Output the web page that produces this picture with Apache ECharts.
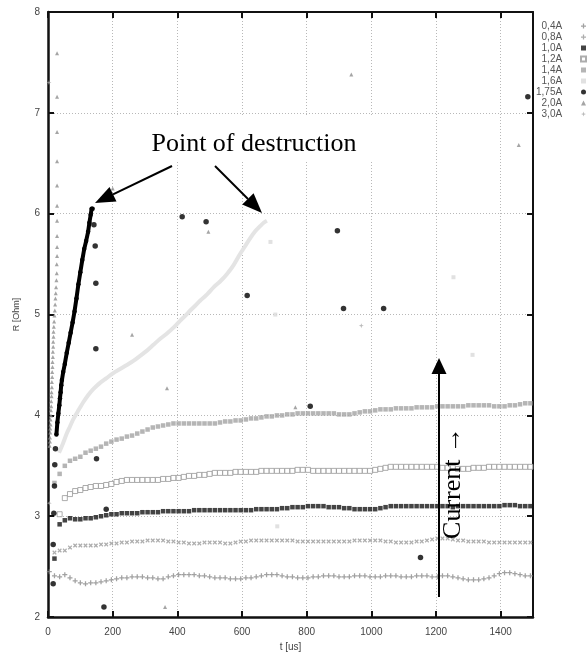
<!DOCTYPE html>
<html><head><meta charset="utf-8">
<script src="https://cdn.jsdelivr.net/npm/echarts@6/dist/echarts.min.js"></script>
<style>html,body{margin:0;padding:0;background:#fff}#c{width:587px;height:657px}</style>
</head><body><div id="c"></div>
<script>
// sample times (us) of the regularly sampled series
const T = [4,20,36,52,68,84,100,116,132,148,
  164,180,196,212,228,244,260,276,292,308,
  324,340,356,372,388,404,420,436,452,468,
  484,500,516,532,548,564,580,596,612,628,
  644,660,676,692,708,724,740,756,772,788,
  804,820,836,852,868,884,900,916,932,948,
  964,980,996,1012,1028,1044,1060,1076,1092,1108,
  1124,1140,1156,1172,1188,1204,1220,1236,1252,1268,
  1284,1300,1316,1332,1348,1364,1380,1396,1412,1428,
  1444,1460,1476,1492];

const R04 = [2.45,2.41,2.40,2.42,2.39,2.36,2.34,2.33,2.34,2.34,
  2.35,2.36,2.37,2.38,2.39,2.39,2.40,2.40,2.40,2.39,
  2.39,2.38,2.38,2.40,2.41,2.42,2.42,2.42,2.42,2.41,
  2.41,2.40,2.39,2.39,2.39,2.38,2.38,2.38,2.39,2.39,
  2.40,2.41,2.42,2.42,2.42,2.41,2.40,2.40,2.39,2.39,
  2.39,2.40,2.40,2.41,2.41,2.41,2.40,2.40,2.40,2.41,
  2.41,2.41,2.40,2.40,2.40,2.41,2.41,2.41,2.40,2.40,
  2.40,2.41,2.41,2.41,2.40,2.40,2.41,2.41,2.40,2.39,
  2.38,2.37,2.37,2.37,2.38,2.39,2.41,2.43,2.44,2.44,
  2.43,2.42,2.41,2.41];

const R08 = [null,2.64,2.66,2.66,2.69,2.71,2.71,2.71,2.71,2.71,
  2.72,2.72,2.73,2.73,2.74,2.74,2.75,2.75,2.75,2.76,
  2.76,2.76,2.76,2.75,2.75,2.74,2.74,2.73,2.73,2.73,
  2.74,2.74,2.74,2.74,2.73,2.73,2.74,2.75,2.75,2.76,
  2.76,2.76,2.76,2.76,2.76,2.76,2.76,2.76,2.75,2.75,
  2.75,2.75,2.75,2.75,2.75,2.75,2.75,2.75,2.75,2.76,
  2.76,2.76,2.76,2.76,2.76,2.75,2.75,2.74,2.74,2.74,
  2.74,2.75,2.75,2.76,2.77,2.78,2.78,2.78,2.77,2.76,
  2.76,2.75,2.75,2.75,2.75,2.74,2.74,2.74,2.74,2.74,
  2.74,2.74,2.74,2.74];

const R10 = [null,2.58,2.92,2.96,2.98,2.97,2.97,2.98,2.98,2.99,
  3.00,3.01,3.02,3.02,3.03,3.03,3.03,3.03,3.04,3.04,
  3.04,3.04,3.05,3.05,3.05,3.05,3.05,3.05,3.06,3.06,
  3.06,3.06,3.06,3.06,3.06,3.06,3.06,3.06,3.06,3.06,
  3.07,3.07,3.07,3.07,3.07,3.08,3.08,3.09,3.09,3.09,
  3.10,3.10,3.10,3.10,3.09,3.09,3.09,3.08,3.08,3.07,
  3.07,3.07,3.07,3.07,3.08,3.09,3.10,3.10,3.10,3.10,
  3.10,3.10,3.10,3.10,3.10,3.10,3.10,3.10,3.09,3.10,
  3.10,3.10,3.10,3.10,3.10,3.10,3.10,3.10,3.11,3.11,
  3.11,3.10,3.10,3.10];

const R12 = [null,null,3.02,3.18,3.22,3.25,3.26,3.28,3.29,3.30,
  3.30,3.31,3.32,3.34,3.35,3.36,3.36,3.36,3.36,3.36,
  3.36,3.36,3.37,3.37,3.38,3.38,3.39,3.40,3.40,3.41,
  3.41,3.42,3.43,3.43,3.43,3.43,3.44,3.44,3.44,3.44,
  3.44,3.45,3.45,3.45,3.45,3.45,3.45,3.45,3.46,3.46,
  3.46,3.45,3.45,3.45,3.45,3.45,3.45,3.45,3.45,3.45,
  3.45,3.45,3.45,3.46,3.47,3.48,3.49,3.49,3.49,3.49,
  3.49,3.49,3.49,3.49,3.49,3.49,3.48,3.48,3.48,3.47,
  3.47,3.47,3.48,3.48,3.48,3.49,3.49,3.49,3.49,3.49,
  3.49,3.49,3.49,3.49];

const R14 = [null,3.33,3.42,3.50,3.55,3.57,3.59,3.63,3.65,3.67,
  3.69,3.72,3.74,3.76,3.77,3.79,3.80,3.82,3.84,3.86,
  3.88,3.89,3.90,3.91,3.92,3.92,3.92,3.92,3.92,3.92,
  3.92,3.92,3.92,3.93,3.94,3.94,3.95,3.95,3.96,3.97,
  3.97,3.98,3.99,3.99,4.00,4.00,4.01,4.01,4.02,4.02,
  4.02,4.02,4.02,4.02,4.02,4.02,4.01,4.01,4.01,4.02,
  4.03,4.04,4.04,4.05,4.06,4.06,4.06,4.07,4.07,4.07,
  4.07,4.08,4.08,4.08,4.08,4.09,4.09,4.09,4.09,4.09,
  4.09,4.10,4.10,4.10,4.10,4.10,4.09,4.09,4.09,4.10,
  4.10,4.11,4.12,4.12];

// 1,6A: continuous light trace up to destruction, then stray points
const C16 = [[34,3.63],[46,3.72],[58,3.82],[68,3.89],[78,3.96],[94,4.05],[109,4.13],[124,4.20],
  [140,4.26],[160,4.32],[181,4.37],[202,4.42],[223,4.46],[244,4.50],[264,4.54],[285,4.59],
  [305,4.64],[326,4.70],[347,4.76],[367,4.81],[388,4.87],[409,4.94],[425,4.99],[440,5.04],
  [456,5.09],[471,5.14],[492,5.20],[512,5.27],[533,5.33],[553,5.40],[574,5.49],[594,5.60],
  [610,5.68],[626,5.76],[642,5.83],[657,5.88],[667,5.91],[677,5.93]];
const S16 = [[688,5.72],[703,5.00],[709,2.90],[1254,5.37],[1313,4.60]];

// 1,75A: dense rise to destruction, then stray points
const C175 = [[26,3.81],[29,3.93],[32,4.02],[35,4.10],[37,4.17],[39,4.23],[41,4.30],[43,4.35],
  [47,4.43],[52,4.51],[58,4.62],[64,4.72],[70,4.82],[76,4.92],[82,5.03],[88,5.16],[94,5.30],
  [100,5.42],[106,5.54],[112,5.65],[118,5.73],[124,5.82],[128,5.91],[132,5.99],[135,6.05],[138,6.05]];
const S175 = [[16,2.33],[16,2.72],[18,3.03],[20,3.30],[21,3.51],[23,3.67],[142,5.89],[146,5.68],
  [148,5.31],[148,4.66],[150,3.57],[173,2.10],[180,3.07],[415,5.97],[489,5.92],[616,5.19],
  [811,4.09],[895,5.83],[914,5.06],[1038,5.06],[1152,2.59],[1484,7.16]];

// 2,0A triangles
const S20 = [[5,3.70],[6,3.74],[6,3.78],[7,3.83],[7,3.87],[8,3.91],[8,3.96],[9,4.00],[9,4.05],
  [10,4.09],[10,4.14],[11,4.19],[11,4.23],[12,4.28],[12,4.33],[13,4.38],[13,4.43],[14,4.48],
  [14,4.53],[15,4.58],[15,4.63],[16,4.68],[16,4.73],[17,4.78],[17,4.83],[18,4.88],[19,4.93],
  [20,4.99],[21,5.04],[22,5.10],[23,5.16],[24,5.21],[25,5.27],[26,5.34],[27,5.41],[27,5.50],
  [28,5.58],[28,5.67],[28,5.78],[28,5.93],[28,6.08],[28,6.28],[28,6.52],[28,6.81],[28,7.16],
  [28,7.59],[200,6.25],[260,4.80],[368,4.27],[362,2.10],[496,5.82],[765,4.08],[938,7.38],[1456,6.68]];

// 3,0A
const S30 = [[3,7.30],[4,3.13],[969,4.89]];

const NAMES = ['0,4A','0,8A','1,0A','1,2A','1,4A','1,6A','1,75A','2,0A','3,0A'];
const X_TICKS = {min:0, max:1500, step:200};
const Y_TICKS = {min:2, max:8, step:1};

function pairs(vals){ const out=[]; T.forEach((t,i)=>{ if(vals[i]!=null) out.push([t,vals[i]]); }); return out; }

const PLUS = 'path://M3,0H5V3H8V5H5V8H3V5H0V3H3Z';
const STAR = 'path://M4,0L5,3L8,4L5,5L4,8L3,5L0,4L3,3Z';
const FONT = 'Liberation Sans';

const chart = echarts.init(document.getElementById('c'), null, {renderer:'canvas'});

const axisCommon = {
  axisLine:{show:true,onZero:false,lineStyle:{color:'#111',width:2.5}},
  axisTick:{show:true,inside:true,length:6,lineStyle:{color:'#111',width:2}}
};

chart.setOption({
  animation:false,
  backgroundColor:'#fff',
  grid:{left:48,right:54,top:12,bottom:35,containLabel:false},
  legend:{
    orient:'vertical', right:0, top:21, padding:0, align:'right',
    itemWidth:5, itemHeight:5, itemGap:1, symbolKeepAspect:true,
    formatter:n => n + '     ',
    textStyle:{fontSize:10,color:'#555',fontFamily:FONT,lineHeight:10},
    data:[
      {name:NAMES[0],icon:PLUS},
      {name:NAMES[1],icon:PLUS},
      {name:NAMES[2],icon:'rect'},
      {name:NAMES[3],icon:'rect'},
      {name:NAMES[4],icon:'rect'},
      {name:NAMES[5],icon:'rect'},
      {name:NAMES[6],icon:'circle'},
      {name:NAMES[7],icon:'triangle'},
      {name:NAMES[8],icon:STAR}
    ]
  },
  xAxis:[
    Object.assign({type:'value',min:X_TICKS.min,max:X_TICKS.max,interval:X_TICKS.step,position:'bottom',
      name:'t [us]',nameLocation:'middle',nameGap:24,
      nameTextStyle:{fontSize:10,color:'#444',fontFamily:FONT},
      axisLabel:{fontSize:10,color:'#444',margin:10,fontFamily:FONT,showMaxLabel:false,formatter:v => String(v)},
      splitLine:{show:true,lineStyle:{color:'#b8b8b8',width:1,type:[1,2]}}}, axisCommon),
    Object.assign({type:'value',min:X_TICKS.min,max:X_TICKS.max,interval:X_TICKS.step,position:'top',
      axisLabel:{show:false},splitLine:{show:false}}, axisCommon,
      {axisLine:{show:true,onZero:false,lineStyle:{color:'#111',width:2}}})
  ],
  yAxis:[
    Object.assign({type:'value',min:Y_TICKS.min,max:Y_TICKS.max,interval:Y_TICKS.step,position:'left',
      name:'R [Ohm]',nameLocation:'middle',nameGap:27,
      nameTextStyle:{fontSize:9,color:'#444',fontFamily:FONT},
      axisLabel:{fontSize:10,color:'#444',margin:8,fontFamily:FONT,formatter:v => String(v)},
      splitLine:{show:true,lineStyle:{color:'#b8b8b8',width:1,type:[1,2]}}}, axisCommon),
    Object.assign({type:'value',min:Y_TICKS.min,max:Y_TICKS.max,interval:Y_TICKS.step,position:'right',
      axisLabel:{show:false},splitLine:{show:false}}, axisCommon,
      {axisLine:{show:true,onZero:false,lineStyle:{color:'#111',width:2}}})
  ],
  series:[
    {name:NAMES[0],type:'scatter',data:pairs(R04),symbol:PLUS,symbolSize:5,itemStyle:{color:'#8a8a8a'}},
    {name:NAMES[1],type:'scatter',data:pairs(R08),symbol:PLUS,symbolRotate:45,symbolSize:5,itemStyle:{color:'#999'}},
    {name:NAMES[2],type:'scatter',data:pairs(R10),symbol:'rect',symbolSize:4.5,itemStyle:{color:'#151515'}},
    {name:NAMES[3],type:'scatter',data:pairs(R12),symbol:'rect',symbolSize:5,itemStyle:{color:'#fff',borderColor:'#999',borderWidth:1}},
    {name:NAMES[4],type:'scatter',data:pairs(R14),symbol:'rect',symbolSize:4.5,itemStyle:{color:'#a2a2a2'}},
    {name:NAMES[5],type:'scatter',data:S16,symbol:'rect',symbolSize:4,itemStyle:{color:'#dadada'}},
    {name:NAMES[5],type:'line',data:C16,z:1,symbol:'none',smooth:0.3,lineStyle:{color:'#e4e4e4',width:4},itemStyle:{color:'#dadada'}},
    {name:NAMES[6],type:'scatter',data:S175,symbol:'circle',symbolSize:5.5,itemStyle:{color:'#000'}},
    {name:NAMES[6],type:'line',data:C175,symbol:'circle',symbolSize:4.5,showSymbol:true,lineStyle:{color:'#000',width:4},itemStyle:{color:'#000'}},
    {name:NAMES[7],type:'scatter',data:S20,symbol:'triangle',symbolSize:4,itemStyle:{color:'#8f8f8f'}},
    {name:NAMES[8],type:'scatter',data:S30,symbol:STAR,symbolSize:5,itemStyle:{color:'#aaa'}}
  ],
  graphic:[
    {type:'rect',z:1,shape:{x:140,y:116,width:252,height:46},style:{fill:'#fff'}},
    {type:'text',z:100,style:{text:'Point of destruction',x:254,y:157,align:'center',verticalAlign:'bottom',
      font:'26px "Liberation Serif"',fill:'#000'}},
    {type:'line',z:100,shape:{x1:172,y1:166,x2:113,y2:194.3},style:{stroke:'#000',lineWidth:2}},
    {type:'polygon',z:100,shape:{points:[[95,203],[109.5,187.1],[116.5,201.5]]},style:{fill:'#000'}},
    {type:'line',z:100,shape:{x1:215,y1:166,x2:248,y2:199},style:{stroke:'#000',lineWidth:2}},
    {type:'polygon',z:100,shape:{points:[[262,213],[242.2,204.6],[253.6,193.2]]},style:{fill:'#000'}},
    {type:'line',z:100,shape:{x1:439,y1:597,x2:439,y2:372},style:{stroke:'#000',lineWidth:2}},
    {type:'polygon',z:100,shape:{points:[[439,358],[431.5,374],[446.5,374]]},style:{fill:'#000'}},
    {type:'text',z:100,x:453,y:483,rotation:Math.PI/2,style:{text:'Current \u2192',x:0,y:0,align:'center',verticalAlign:'middle',
      font:'26px "Liberation Serif"',fill:'#000'}}
  ]
});
</script>
</body></html>
